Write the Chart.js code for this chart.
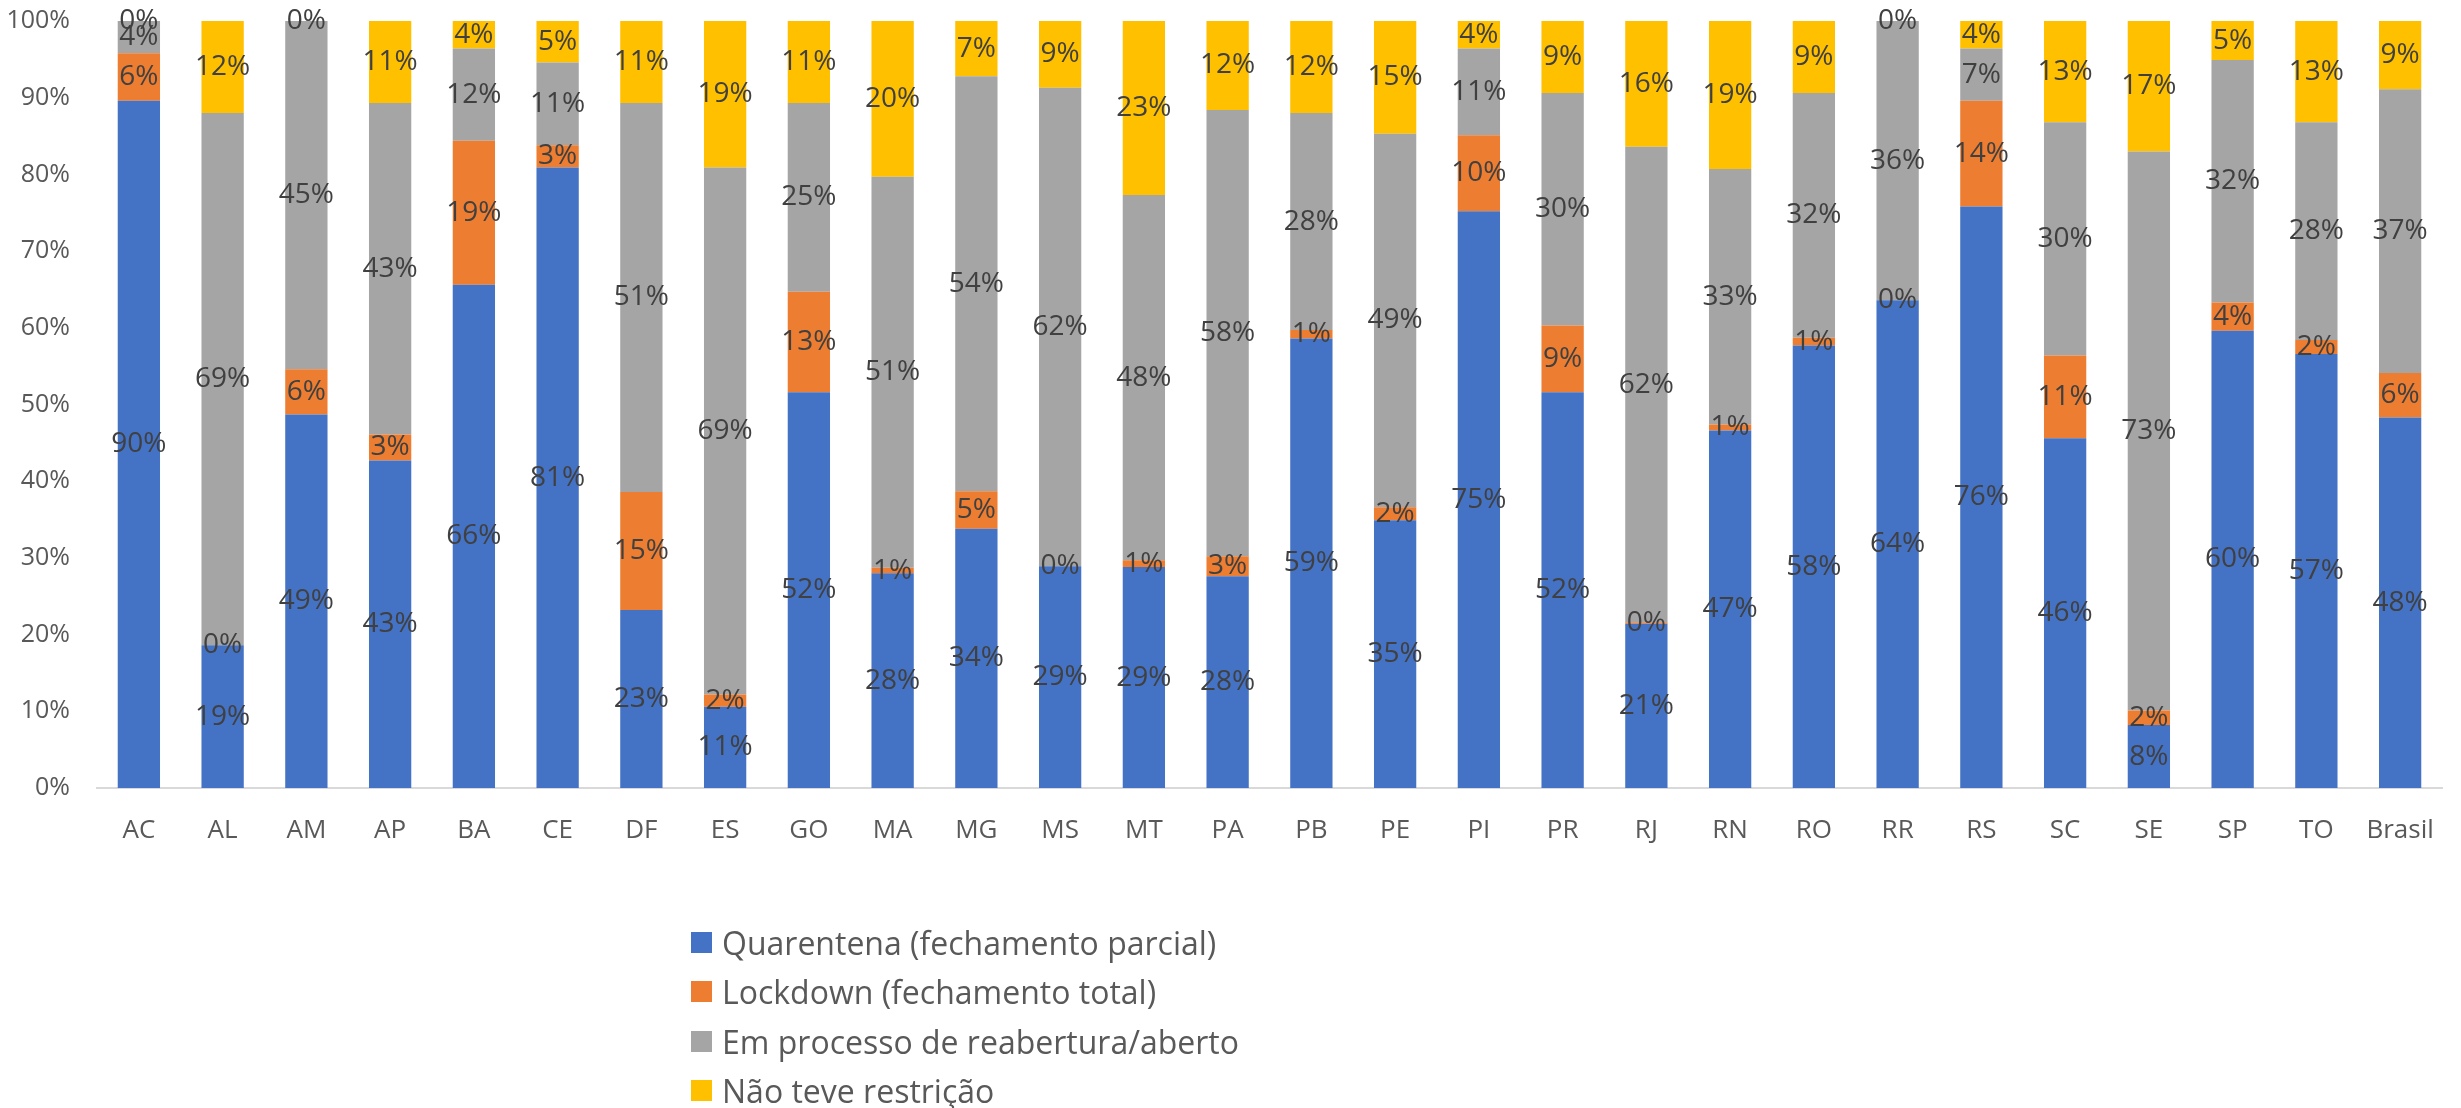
<!DOCTYPE html>
<html>
<head>
<meta charset="utf-8">
<script src="https://cdn.jsdelivr.net/npm/chart.js@4.4.1/dist/chart.umd.min.js"></script>
<style>
  html, body { margin: 0; padding: 0; background: #ffffff; }
  #wrap { position: relative; width: 2461px; height: 1108px; overflow: hidden; }
  #c { position: absolute; left: 0; top: 0; }
  #legend { position: absolute; left: 691px; top: 918px; font-family: "Open Sans", sans-serif; color: #595959; font-size: 32px; }
  #legend .item { display: flex; align-items: center; height: 49.3px; white-space: nowrap; }
  #legend .sw { width: 21px; height: 21px; margin-right: 10px; flex: none; }
</style>
</head>
<body>
<div id="wrap">
  <canvas id="c" width="2461" height="1108"></canvas>
  <div id="legend"></div>
</div>
<script>
// ---- Data (percent of municipalities per state) ----
const categories = ["AC","AL","AM","AP","BA","CE","DF","ES","GO","MA","MG","MS","MT","PA","PB","PE","PI","PR","RJ","RN","RO","RR","RS","SC","SE","SP","TO","Brasil"];

const seriesNames = [
  "Quarentena (fechamento parcial)",
  "Lockdown (fechamento total)",
  "Em processo de reabertura/aberto",
  "Não teve restrição"
];

const quarentena = [89.6,18.6,48.7,42.7,65.6,80.9,23.2,10.6,51.6,28.0,33.8,28.9,28.8,27.6,58.6,34.9,75.2,51.6,21.4,46.6,57.7,63.6,75.8,45.6,8.2,59.6,56.6,48.3];
const lockdown   = [6.2,0.0,5.9,3.4,18.8,2.9,15.4,1.6,13.1,0.7,4.9,0.0,0.9,2.6,1.1,1.7,9.9,8.7,0.2,0.8,1.0,0.0,13.8,10.8,1.9,3.7,1.8,5.8];
const reabertura = [4.2,69.4,45.4,43.2,12.0,10.8,50.7,68.7,24.6,51.0,54.1,62.4,47.6,58.2,28.3,48.7,11.3,30.3,62.0,33.3,31.9,36.4,6.8,30.4,72.9,31.6,28.4,37.0];
const semRestricao = [0.0,12.0,0.0,10.7,3.6,5.4,10.7,19.1,10.7,20.3,7.2,8.7,22.7,11.6,12.0,14.7,3.6,9.4,16.4,19.3,9.4,0.0,3.6,13.2,17.0,5.1,13.2,8.9];

const yTickLabels = ["0%","10%","20%","30%","40%","50%","60%","70%","80%","90%","100%"];

const colors = ["#4472C4","#ED7D31","#A5A5A5","#FFC000"];
const seriesValues = [quarentena, lockdown, reabertura, semRestricao];

// ---- Segment labels plugin ----
const segLabels = {
  id: "segLabels",
  afterDatasetsDraw(chart) {
    const ctx = chart.ctx;
    ctx.save();
    ctx.font = '28px "Open Sans"';
    ctx.fillStyle = "#404040";
    ctx.textAlign = "center";
    ctx.textBaseline = "middle";
    chart.data.datasets.forEach((ds, di) => {
      const meta = chart.getDatasetMeta(di);
      meta.data.forEach((bar, i) => {
        const v = ds.data[i];
        const y = (bar.y + bar.base) / 2;
        ctx.fillText(Math.round(v) + "%", bar.x, y);
      });
    });
    ctx.restore();
  }
};

const datasets = seriesNames.map((name, k) => ({
  label: name,
  data: seriesValues[k],
  backgroundColor: colors[k],
  borderWidth: 0,
  barPercentage: 0.505,
  categoryPercentage: 1.0
}));

new Chart(document.getElementById("c"), {
  type: "bar",
  data: { labels: categories, datasets },
  options: {
    responsive: false,
    animation: false,
    devicePixelRatio: 1,
    layout: { padding: { left: 0, right: 19, top: 21, bottom: 240 } },
    plugins: {
      legend: { display: false },
      tooltip: { enabled: false }
    },
    scales: {
      x: {
        stacked: true,
        grid: { display: false, drawTicks: false },
        border: { display: true, color: "#D9D9D9", width: 2 },
        ticks: {
          font: { family: "Open Sans", size: 26 },
          color: "#595959",
          padding: 27,
          maxRotation: 0,
          autoSkip: false
        },
        afterFit(s) { s.height = 80; s.paddingLeft = 0; s.paddingRight = 0; }
      },
      y: {
        stacked: true,
        min: 0,
        max: 100,
        grid: { display: false, drawTicks: false },
        border: { display: false },
        ticks: {
          stepSize: 10,
          font: { family: "Open Sans", size: 25 },
          color: "#595959",
          padding: 27,
          callback: (v, i) => yTickLabels[i]
        },
        afterFit(s) { s.width = 97; s.paddingTop = 0; s.paddingBottom = 0; }
      }
    }
  },
  plugins: [segLabels]
});

// ---- HTML legend built from the datasets ----
const legendEl = document.getElementById("legend");
seriesNames.forEach((name, k) => {
  const item = document.createElement("div");
  item.className = "item";
  const sw = document.createElement("span");
  sw.className = "sw";
  sw.style.background = colors[k];
  const tx = document.createElement("span");
  tx.textContent = name;
  item.appendChild(sw);
  item.appendChild(tx);
  legendEl.appendChild(item);
});
</script>
</body>
</html>
